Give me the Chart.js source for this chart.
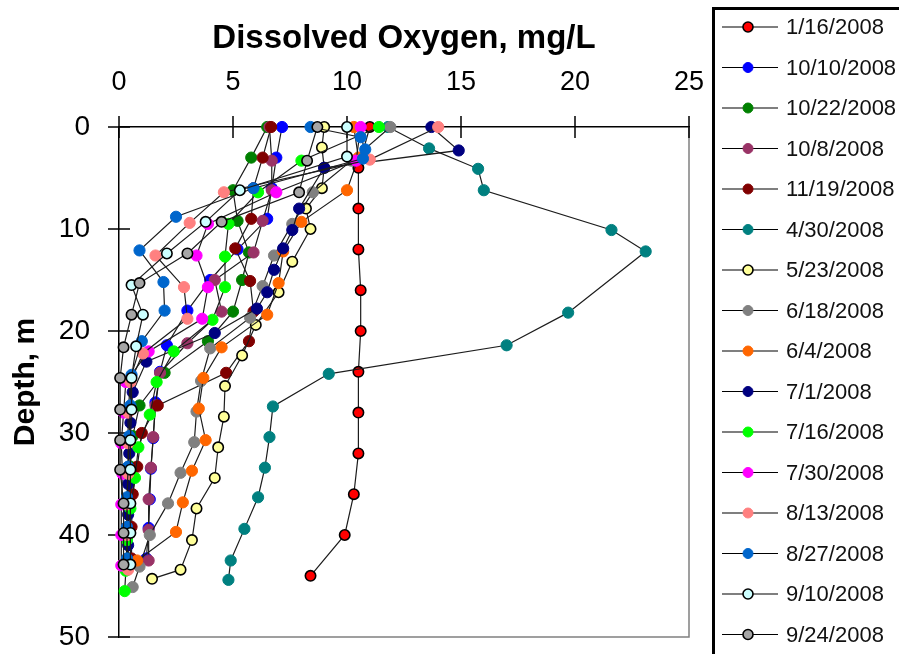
<!DOCTYPE html>
<html>
<head>
<meta charset="utf-8">
<title>Dissolved Oxygen Profiles 2008</title>
<script src="https://cdn.jsdelivr.net/npm/chart.js@4.4.1/dist/chart.umd.min.js"></script>
<style>
  html, body { margin: 0; padding: 0; background: #ffffff; }
  #wrap { position: relative; width: 899px; height: 654px; overflow: hidden; }
  canvas { display: block; }
</style>
</head>
<body>
<div id="wrap"><canvas id="chart" width="899" height="654"></canvas></div>
<script>
// Sampling dates (legend order)
const seriesLabels = ['1/16/2008', '10/10/2008', '10/22/2008', '10/8/2008', '11/19/2008', '4/30/2008',
  '5/23/2008', '6/18/2008', '6/4/2008', '7/1/2008', '7/16/2008', '7/30/2008', '8/13/2008',
  '8/27/2008', '9/10/2008', '9/24/2008'];

// Axis ticks
const doTicks = [0, 5, 10, 15, 20, 25];
const depthTicks = [0, 10, 20, 30, 40, 50];

// Profiles: depth (m) and dissolved oxygen (mg/L)
const depth_0116 = [0, 4, 8, 12, 16, 20, 24, 28, 32, 36, 40, 44];
const do_0116    = [11.0, 10.5, 10.5, 10.5, 10.6, 10.6, 10.5, 10.5, 10.5, 10.3, 9.9, 8.4];

const depth_1010 = [0, 3, 6, 9, 12, 15, 18, 21.4, 24, 27, 30.5, 33.5, 36.5, 39.3, 42.3];
const do_1010    = [7.15, 6.9, 6.7, 6.5, 5.2, 4.0, 3.0, 2.1, 1.8, 1.6, 1.5, 1.4, 1.35, 1.3, 1.2];

const depth_1022 = [0, 3, 6.2, 9.2, 12.3, 15, 18.1, 21, 24.1, 27.3, 30.3, 33.3, 36.3, 39.3, 42.3];
const do_1022    = [6.5, 5.8, 5.0, 5.2, 5.7, 5.4, 5.0, 3.9, 2.0, 0.9, 0.6, 0.5, 0.45, 0.4, 0.4];

const depth_1008 = [0, 3.3, 6.2, 9.2, 12.3, 15, 18.1, 21.2, 24.1, 27.3, 30.4, 33.4, 36.5, 39.5, 42.5];
const do_1008    = [6.6, 6.7, 6.7, 6.3, 5.9, 4.2, 4.5, 3.0, 1.8, 1.6, 1.5, 1.4, 1.3, 1.3, 1.3];

const depth_1119 = [0, 3, 6, 9, 11.9, 15.1, 18.1, 21, 24.1, 27.3, 30, 33.3, 36, 39.2, 42.3];
const do_1119    = [6.67, 6.3, 5.9, 5.8, 5.1, 5.75, 5.9, 5.7, 4.7, 1.7, 1.0, 0.8, 0.6, 0.55, 0.55];

const depth_0430 = [0, 2.1, 4.1, 6.2, 10.1, 12.2, 18.2, 21.4, 24.2, 27.4, 30.4, 33.4, 36.3, 39.4, 42.5, 44.4];
const do_0430    = [11.8, 13.6, 15.75, 16.0, 21.6, 23.1, 19.7, 17.0, 9.2, 6.75, 6.6, 6.4, 6.1, 5.5, 4.9, 4.8];

const depth_0523 = [0, 2, 4, 6, 8, 10, 13.2, 16.2, 19.4, 22.4, 25.4, 28.4, 31.4, 34.4, 37.4, 40.5, 43.4, 44.3];
const do_0523    = [9.0, 8.9, 9.0, 8.9, 8.2, 8.4, 7.6, 7.0, 6.0, 5.4, 4.65, 4.6, 4.35, 4.2, 3.4, 3.2, 2.7, 1.45];

const depth_0618 = [0, 3.3, 6.4, 9.5, 12.6, 15.6, 18.7, 21.7, 24.9, 27.9, 30.9, 33.9, 36.9, 40, 43.1, 45.1];
const do_0618    = [11.9, 10.2, 8.5, 7.6, 6.8, 6.3, 5.75, 4.0, 3.6, 3.4, 3.3, 2.7, 2.15, 1.35, 0.9, 0.6];

const depth_0604 = [0, 3, 6.2, 9.3, 12.2, 15.3, 18.4, 21.6, 24.6, 27.6, 30.7, 33.7, 36.8, 39.7, 42.5];
const do_0604    = [10.3, 10.5, 10.0, 8.0, 7.2, 7.0, 6.5, 4.5, 3.7, 3.5, 3.8, 3.2, 2.8, 2.5, 0.8];

const depth_0701 = [0, 2.3, 4, 8, 10.1, 11.9, 14, 16.2, 17.8, 20.2, 23, 26, 29, 32, 35, 38, 41, 43];
const do_0701    = [13.7, 14.9, 9.0, 7.9, 7.6, 7.2, 6.8, 6.5, 6.05, 4.2, 1.2, 0.6, 0.5, 0.45, 0.4, 0.4, 0.4, 0.4];

const depth_0716 = [0, 3.3, 6.4, 9.5, 12.7, 15.7, 18.9, 22, 25, 28.2, 31.4, 34.4, 37.4, 40.5, 43.5, 45.5];
const do_0716    = [11.4, 8.0, 6.1, 4.8, 4.65, 4.65, 4.1, 2.4, 1.65, 1.35, 0.85, 0.7, 0.5, 0.35, 0.3, 0.25];

const depth_0730 = [0, 3.3, 6.4, 9.5, 12.6, 15.7, 18.8, 22, 25, 28, 31, 34, 37, 40, 43];
const do_0730    = [10.6, 10.4, 6.9, 3.9, 3.4, 3.9, 3.65, 1.3, 0.3, 0.2, 0.1, 0.15, 0.1, 0.1, 0.1];

const depth_0813 = [0, 3.2, 6.4, 9.4, 12.6, 15.7, 18.8, 22.2, 25, 28, 31, 34, 37, 40, 43.4];
const do_0813    = [14.0, 11.0, 4.6, 3.1, 1.6, 2.85, 3.0, 1.05, 0.5, 0.4, 0.4, 0.4, 0.35, 0.35, 0.4];

const depth_0827 = [0, 1, 2.2, 3.1, 6, 8.8, 12.1, 15.2, 18, 21, 24.3, 27.3, 30.3, 33.3, 36.3, 39.2, 42.3];
const do_0827    = [8.4, 10.6, 10.8, 10.7, 5.9, 2.5, 0.9, 1.95, 2.0, 1.0, 0.55, 0.5, 0.45, 0.4, 0.35, 0.35, 0.35];

const depth_0910 = [0, 2.9, 6.2, 9.3, 12.4, 15.5, 18.4, 21.5, 24.6, 27.7, 30.7, 33.6, 36.9, 39.8, 42.9];
const do_0910    = [10.0, 10.0, 5.3, 3.8, 2.1, 0.55, 1.05, 0.75, 0.55, 0.55, 0.5, 0.5, 0.5, 0.5, 0.5];

const depth_0924 = [0, 3.3, 6.4, 9.3, 12.4, 15.3, 18.4, 21.6, 24.6, 27.7, 30.7, 33.6, 36.9, 39.8, 42.9];
const do_0924    = [8.7, 8.25, 7.9, 4.5, 3.0, 0.9, 0.55, 0.2, 0.05, 0.05, 0.05, 0.05, 0.2, 0.2, 0.2];

const depthSeries = [depth_0116, depth_1010, depth_1022, depth_1008, depth_1119, depth_0430, depth_0523,
  depth_0618, depth_0604, depth_0701, depth_0716, depth_0730, depth_0813, depth_0827, depth_0910, depth_0924];
const doSeries = [do_0116, do_1010, do_1022, do_1008, do_1119, do_0430, do_0523,
  do_0618, do_0604, do_0701, do_0716, do_0730, do_0813, do_0827, do_0910, do_0924];

// Marker fills, and whether the marker gets a black outline
const markerFill = ['#FF0000', '#0000FF', '#008000', '#993366', '#800000', '#008080', '#FFFF99',
  '#808080', '#FF6600', '#000080', '#00FF00', '#FF00FF', '#FF8080', '#0066CC', '#CCFFFF', '#A6A6A6'];
const markerOutlined = [true, false, false, false, false, false, true,
  false, false, false, false, false, false, false, true, true];

const FONT = "'Liberation Sans', Arial, Helvetica, sans-serif";

const datasets = seriesLabels.map((label, i) => ({
  label,
  data: depthSeries[i].map((d, k) => ({ x: doSeries[i][k], y: d })),
  showLine: true,
  borderColor: '#1c1c1c',
  borderWidth: 1.2,
  pointBackgroundColor: markerFill[i],
  pointBorderColor: markerOutlined[i] ? '#000000' : markerFill[i],
  pointBorderWidth: markerOutlined[i] ? 1.6 : 1,
  pointRadius: markerOutlined[i] ? 5.2 : 5.6,
  clip: false,
  order: seriesLabels.length - i   // later dates drawn on top
}));

// Ticks that cross the axis lines, plus the grey frame on the right and bottom
const crossTicks = {
  id: 'crossTicks',
  beforeDatasetsDraw(chart) {
    const { ctx, chartArea: a, scales: { x, y } } = chart;
    ctx.save();
    ctx.strokeStyle = '#808080';
    ctx.lineWidth = 1.5;
    ctx.beginPath();
    ctx.moveTo(a.right, a.top);
    ctx.lineTo(a.right, a.bottom);
    ctx.lineTo(a.left, a.bottom);
    ctx.stroke();
    ctx.strokeStyle = '#000000';
    ctx.lineWidth = 1.5;
    ctx.beginPath();
    x.ticks.forEach(t => {
      const px = x.getPixelForValue(t.value);
      ctx.moveTo(px, a.top - 11);
      ctx.lineTo(px, a.top + 11);
    });
    y.ticks.forEach(t => {
      const py = y.getPixelForValue(t.value);
      ctx.moveTo(a.left - 11, py);
      ctx.lineTo(a.left + 11, py);
    });
    ctx.stroke();
    ctx.restore();
  }
};

// Boxed legend on the right, one row per sampling date
const boxLegend = {
  id: 'boxLegend',
  afterDraw(chart) {
    const { ctx } = chart;
    ctx.save();
    ctx.strokeStyle = '#000000';
    ctx.lineWidth = 3;
    ctx.strokeRect(713.5, 8.5, 400, 700);
    ctx.font = '22px ' + FONT;
    ctx.textBaseline = 'middle';
    ctx.textAlign = 'left';
    chart.data.datasets.forEach((ds, i) => {
      const yy = 27 + i * 40.5;
      ctx.strokeStyle = '#000000';
      ctx.lineWidth = 1.2;
      ctx.beginPath();
      ctx.moveTo(722, yy);
      ctx.lineTo(778, yy);
      ctx.stroke();
      ctx.beginPath();
      ctx.arc(748, yy, 5, 0, Math.PI * 2);
      ctx.fillStyle = ds.pointBackgroundColor;
      ctx.fill();
      ctx.lineWidth = ds.pointBorderWidth;
      ctx.strokeStyle = ds.pointBorderColor;
      ctx.stroke();
      ctx.fillStyle = '#111111';
      ctx.fillText(ds.label, 786, yy + 1);
    });
    ctx.restore();
  }
};

new Chart(document.getElementById('chart'), {
  type: 'scatter',
  data: { datasets },
  plugins: [crossTicks, boxLegend],
  options: {
    responsive: false,
    devicePixelRatio: 1,
    animation: false,
    events: [],
    layout: { padding: { left: 0, top: 0, right: 210, bottom: 17 } },
    plugins: { legend: { display: false }, tooltip: { enabled: false } },
    scales: {
      x: {
        type: 'linear',
        position: 'top',
        min: 0, max: 25,
        afterBuildTicks: s => { s.ticks = doTicks.map(v => ({ value: v })); },
        afterFit: s => { s.height = 127; s.paddingLeft = 0; s.paddingRight = 0; },
        grid: { display: false, drawTicks: false },
        border: { display: true, color: '#000000', width: 1.5 },
        ticks: { font: { family: FONT, size: 27 }, color: '#000000', padding: 28, maxRotation: 0, autoSkip: false },
        title: { display: true, text: 'Dissolved Oxygen, mg/L', color: '#000000',
                 font: { family: FONT, size: 33, weight: 'bold' }, padding: { top: 19, bottom: 0 } }
      },
      y: {
        type: 'linear',
        position: 'left',
        reverse: true,
        min: 0, max: 50,
        afterBuildTicks: s => { s.ticks = depthTicks.map(v => ({ value: v })); },
        afterFit: s => { s.width = 119; s.paddingTop = 0; s.paddingBottom = 0; },
        grid: { display: false, drawTicks: false },
        border: { display: true, color: '#000000', width: 1.5 },
        ticks: { font: { family: FONT, size: 28 }, color: '#000000', padding: 29, autoSkip: false },
        title: { display: true, text: 'Depth, m', color: '#000000',
                 font: { family: FONT, size: 30, weight: 'bold' }, padding: { top: 8, bottom: 0 } }
      }
    }
  }
});
</script>
</body>
</html>
